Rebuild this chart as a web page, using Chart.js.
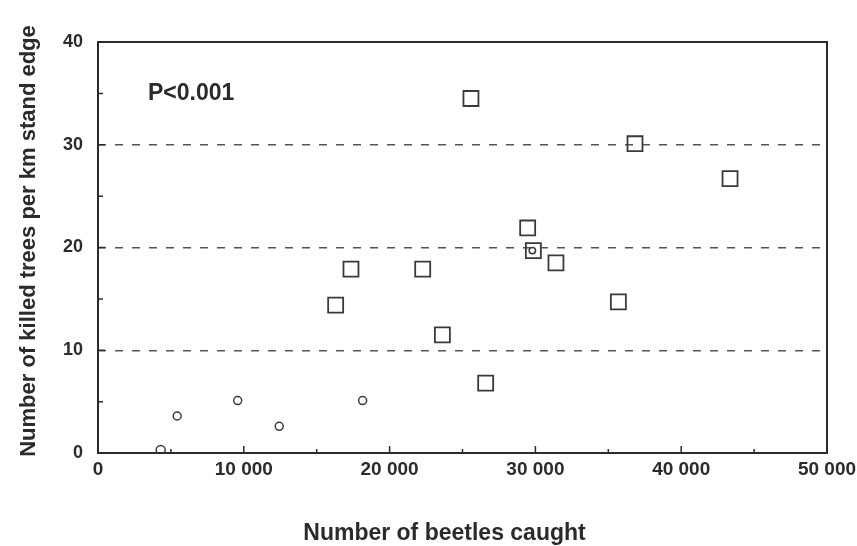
<!DOCTYPE html>
<html>
<head>
<meta charset="utf-8">
<script src="https://cdn.jsdelivr.net/npm/chart.js@4/dist/chart.umd.min.js"></script>
<style>
html,body{margin:0;padding:0;background:#fff;}
canvas{display:block;}
</style>
</head>
<body>
<canvas id="c" width="857" height="546"></canvas>
<script>
// Data
const squaresX = [16300, 17350, 22270, 23620, 25580, 26590, 29470, 29860, 31410, 35690, 36830, 43350];
const squaresY = [14.4, 17.9, 17.9, 11.5, 34.5, 6.8, 21.9, 19.7, 18.5, 14.7, 30.1, 26.7];
const circlesX = [4300, 5430, 9580, 12430, 18150, 29790];
const circlesY = [0.3, 3.6, 5.1, 2.6, 5.1, 19.7];
const circleSizes = [4.5, 4, 4, 4, 4, 3.2];
const gridValues = [10, 20, 30];
const xTitle = "Number of beetles caught";
const yTitle = "Number of killed trees per km stand edge";
const pText = "P<0.001";
const pX = 3430, pY = 34.35;

const FONT = '"Liberation Sans", Arial, Helvetica, sans-serif';
const INK = '#2b2b2b';

function fmt(v){ return v === 0 ? '0' : String(v).replace(/\B(?=(\d{3})+(?!\d))/g, ' '); }

const framePlugin = {
  id: 'frame',
  beforeDatasetsDraw(chart){
    const {ctx, chartArea:a, scales:{x, y}} = chart;
    ctx.save();
    ctx.strokeStyle = INK;
    ctx.lineWidth = 1.5;
    ctx.beginPath();
    for (let v = 5000; v < 50000; v += 5000){
      const px = x.getPixelForValue(v);
      const len = (v % 10000 === 0) ? 7 : 4;
      ctx.moveTo(px, a.bottom); ctx.lineTo(px, a.bottom - len);
    }
    for (let v = 5; v < 40; v += 5){
      const py = y.getPixelForValue(v);
      const len = (v % 10 === 0) ? 7 : 5;
      ctx.moveTo(a.left, py); ctx.lineTo(a.left + len, py);
    }
    ctx.stroke();
    ctx.lineWidth = 2;
    ctx.strokeRect(a.left, a.top, a.right - a.left, a.bottom - a.top);
    ctx.restore();
  },
  afterDraw(chart){
    const {ctx, scales:{x, y}} = chart;
    ctx.save();
    ctx.fillStyle = INK;
    ctx.font = 'bold 23px ' + FONT;
    ctx.textAlign = 'left';
    ctx.textBaseline = 'alphabetic';
    ctx.fillText(pText, x.getPixelForValue(pX), y.getPixelForValue(pY));
    ctx.textAlign = 'center';
    ctx.fillText(xTitle, 444.5, 540);
    ctx.font = 'bold 22px ' + FONT;
    ctx.translate(35, 241);
    ctx.rotate(-Math.PI/2);
    ctx.fillText(yTitle, 0, 0);
    ctx.restore();
  }
};

new Chart(document.getElementById('c'), {
  type: 'scatter',
  data: {
    datasets: [
      {
        label: 'squares',
        data: squaresX.map((v, i) => ({x: v, y: squaresY[i]})),
        pointStyle: 'rect',
        pointRadius: 10.6,
        borderColor: '#3a3a3a',
        backgroundColor: 'rgba(0,0,0,0)',
        borderWidth: 1.8,
        order: 2
      },
      {
        label: 'circles',
        data: circlesX.map((v, i) => ({x: v, y: circlesY[i]})),
        pointStyle: 'circle',
        pointRadius: circleSizes,
        borderColor: '#3a3a3a',
        backgroundColor: 'rgba(0,0,0,0)',
        borderWidth: 1.5,
        order: 1
      }
    ]
  },
  options: {
    responsive: false,
    animation: false,
    layout: {padding: {top: 42, right: 30, left: 0, bottom: 0}},
    plugins: {legend: {display: false}, tooltip: {enabled: false}},
    scales: {
      x: {
        type: 'linear',
        min: 0, max: 50000,
        afterFit(s){ s.height = 93; s.paddingRight = 0; s.paddingLeft = 0; },
        ticks: {stepSize: 10000, padding: 5, color: INK, font: {family: FONT, size: 19, weight: 'bold'}, callback: fmt, maxRotation: 0},
        grid: {display: false, drawTicks: false},
        border: {display: false}
      },
      y: {
        type: 'linear',
        min: 0, max: 40,
        afterFit(s){ s.width = 98; s.paddingTop = 0; s.paddingBottom = 0; },
        ticks: {stepSize: 10, padding: 15, color: INK, font: {family: FONT, size: 18, weight: 'bold'}},
        grid: {
          drawTicks: false,
          lineWidth: 1.5,
          color: (c) => (c.tick && gridValues.includes(c.tick.value)) ? '#555' : 'rgba(0,0,0,0)'
        },
        border: {display: false, dash: [8, 9]}
      }
    }
  },
  plugins: [framePlugin]
});
</script>
</body>
</html>
